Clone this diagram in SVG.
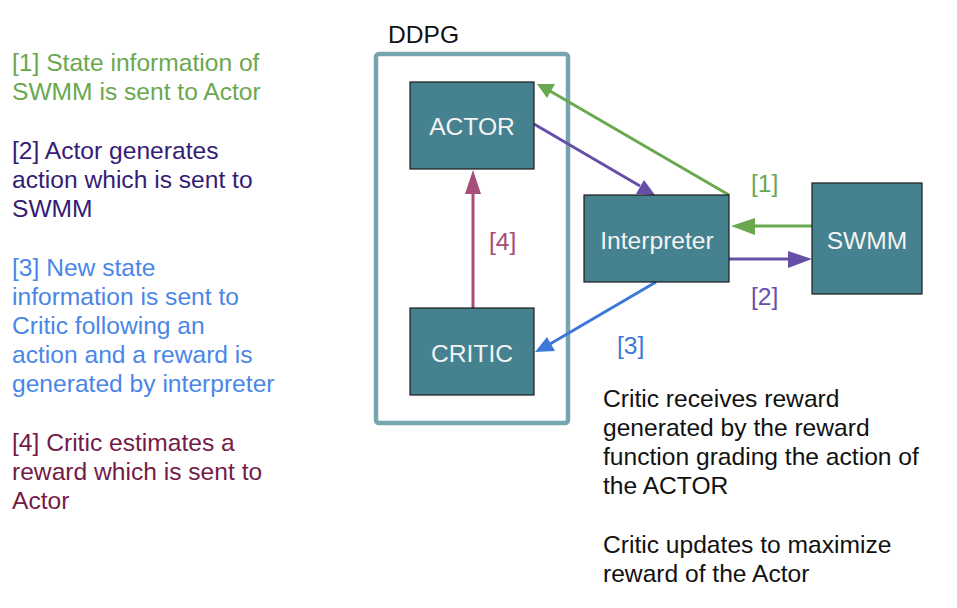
<svg xmlns="http://www.w3.org/2000/svg" width="957" height="608" viewBox="0 0 957 608">
<style>
text{font-family:"Liberation Sans",Arial,sans-serif;font-size:24.6px}
.node rect{fill:#45818e;stroke:#1b1b1b;stroke-width:1.2}
.node text{fill:#f3f3f3;text-anchor:middle}
.c{fill:none;stroke-width:3}
.g{fill:#6aa84f}.p{fill:#674ea7}.b{fill:#3c78d8}.m{fill:#a64d79}
</style>
<rect width="957" height="608" fill="#fff"/>
<g id="legend">
<text class="g" x="12" y="71">[1] State information of</text>
<text class="g" x="12" y="100">SWMM is sent to Actor</text>
<text fill="#351c75" x="12" y="159">[2] Actor generates</text>
<text fill="#351c75" x="12" y="188">action which is sent to</text>
<text fill="#351c75" x="12" y="217">SWMM</text>
<text fill="#4a86e8" x="12" y="276">[3] New state</text>
<text fill="#4a86e8" x="12" y="305">information is sent to</text>
<text fill="#4a86e8" x="12" y="334">Critic following an</text>
<text fill="#4a86e8" x="12" y="363">action and a reward is</text>
<text fill="#4a86e8" x="12" y="392">generated by interpreter</text>
<text fill="#741b47" x="12" y="451">[4] Critic estimates a</text>
<text fill="#741b47" x="12" y="480">reward which is sent to</text>
<text fill="#741b47" x="12" y="509">Actor</text>
</g>
<g id="ddpg">
<text x="388" y="43" fill="#111" font-size="23.6">DDPG</text>
<rect x="376" y="54" width="192" height="369" rx="3" fill="none" stroke="#76a5af" stroke-width="4.5"/>
</g>
<g id="connectors">
<line class="c" x1="729" y1="195" x2="550" y2="91" stroke="#6aa84f"/>
<path d="M537,84 L555,84 L547,98 z" fill="#6aa84f"/>
<line class="c" x1="534" y1="124" x2="640" y2="186" stroke="#674ea7"/>
<path d="M655,195 L636,194 L644,180 z" fill="#674ea7"/>
<line class="c" x1="812" y1="226" x2="748" y2="226" stroke="#6aa84f"/>
<path d="M731,226 L755,218 L755,235 z" fill="#6aa84f"/>
<line class="c" x1="729" y1="259" x2="795" y2="259" stroke="#674ea7"/>
<path d="M812,259 L788,251 L788,268 z" fill="#674ea7"/>
<line class="c" x1="656" y1="282" x2="550" y2="344" stroke="#3c78d8"/>
<path d="M535,352 L547,337 L555,351 z" fill="#3c78d8"/>
<line class="c" x1="473" y1="308" x2="473" y2="186" stroke="#a64d79"/>
<path d="M473,170 L481,194 L465,194 z" fill="#a64d79"/>
<text class="g" x="751" y="192">[1]</text>
<text class="p" x="751" y="305">[2]</text>
<text class="b" x="617" y="354">[3]</text>
<text class="m" x="489" y="250">[4]</text>
</g>
<g id="actor" class="node"><rect x="410" y="82" width="124" height="87"/><text x="472" y="135">ACTOR</text></g>
<g id="critic" class="node"><rect x="410" y="308" width="124" height="87"/><text x="472" y="362">CRITIC</text></g>
<g id="interpreter" class="node"><rect x="584" y="195" width="145" height="87"/><text x="657" y="249">Interpreter</text></g>
<g id="swmm" class="node"><rect x="812" y="183" width="110" height="111"/><text x="867" y="249">SWMM</text></g>
<g id="notes">
<text fill="#111" x="603" y="407">Critic receives reward</text>
<text fill="#111" x="603" y="436">generated by the reward</text>
<text fill="#111" x="603" y="465">function grading the action of</text>
<text fill="#111" x="603" y="494">the ACTOR</text>
<text fill="#111" x="603" y="553">Critic updates to maximize</text>
<text fill="#111" x="603" y="582">reward of the Actor</text>
</g>
</svg>
